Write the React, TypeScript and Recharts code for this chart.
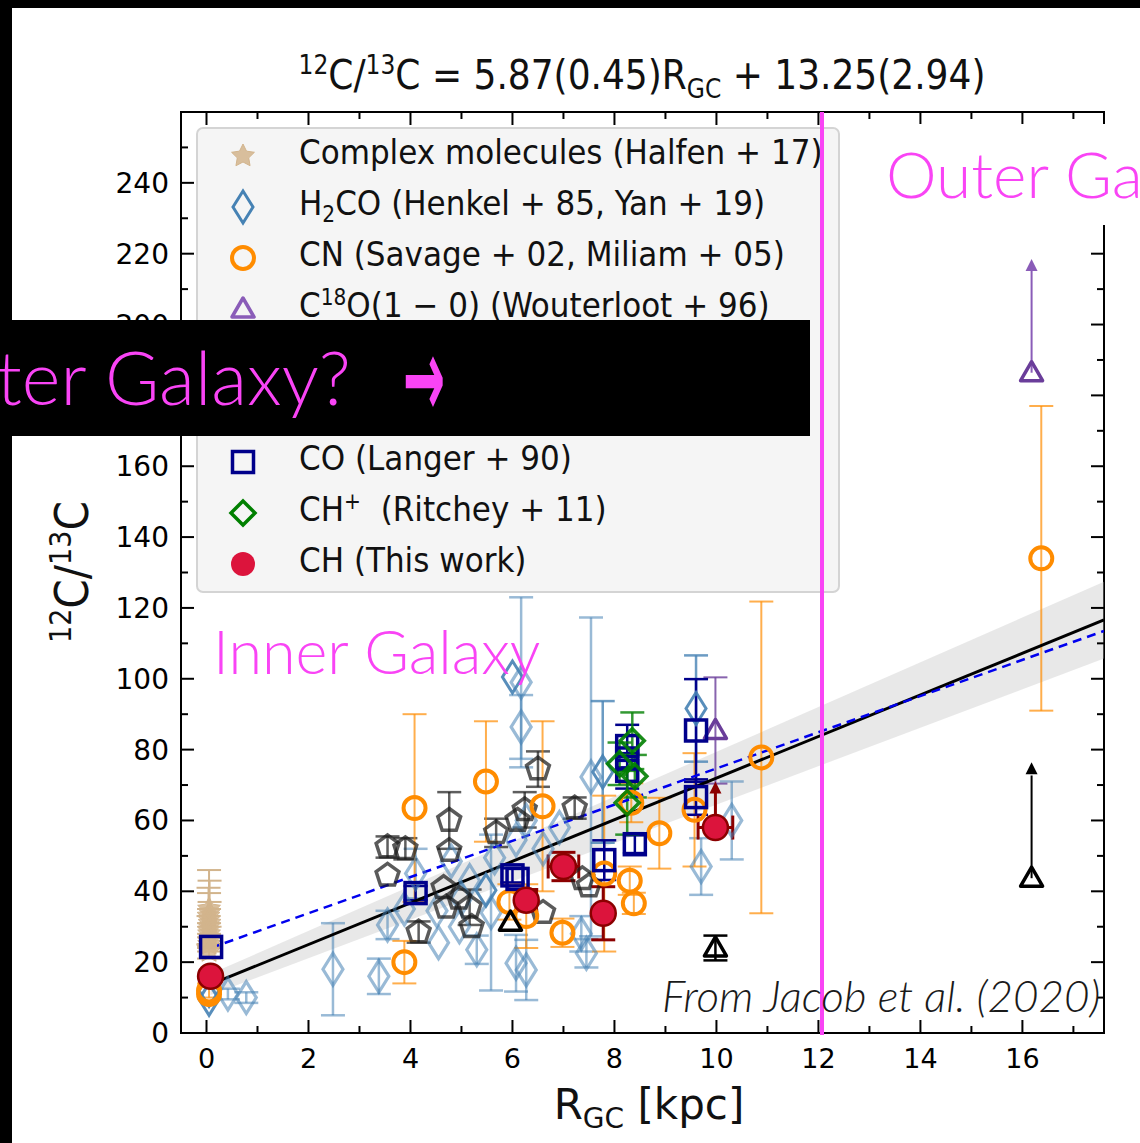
import React from 'react'
import {
  ComposedChart,
  Scatter,
  ErrorBar,
  Line,
  Area,
  XAxis,
  YAxis,
  ReferenceArea,
} from 'recharts'

// ---- axes ----
const X_DOMAIN: [number, number] = [-0.5, 17.6]
const Y_DOMAIN: [number, number] = [0, 260]
const X_TICKS = [0, 1, 2, 3, 4, 5, 6, 7, 8, 9, 10, 11, 12, 13, 14, 15, 16, 17]
const Y_TICKS = [0, 10, 20, 30, 40, 50, 60, 70, 80, 90, 100, 110, 120, 130, 140, 150, 160, 170, 180, 190, 200, 210, 220, 230, 240, 250]
// labels hidden under the slide banner are not drawn
const Y_HIDDEN_LABELS = [180]

// ---- fits ----
const FIT_X = [0.08, 17.6]
const FIT_Y = [13.7, 116.6]
const DASH_Y = [24.0, 113.5]
const BAND_LO = [10.7, 105.7]
const BAND_HI = [16.7, 127.4]

// ---- data (R_GC kpc, 12C/13C, errors) ----
const HALFEN = [
  { x: 0.05, y: 35, ey: 11 }, { x: 0.06, y: 34, ey: 9 }, { x: 0.04, y: 33, ey: 8 },
  { x: 0.05, y: 32, ey: 7.5 }, { x: 0.06, y: 31, ey: 6 }, { x: 0.05, y: 30, ey: 5 },
  { x: 0.04, y: 29, ey: 4 }, { x: 0.05, y: 28, ey: 3 }, { x: 0.06, y: 27, ey: 3 },
  { x: 0.05, y: 26, ey: 2 }, { x: 0.05, y: 25, ey: 2 }, { x: 0.05, y: 23, ey: 2 },
]

const H2CO_DARK = [
  { x: 0.05, y: 9.5 }, { x: 0.05, y: 12 }, { x: 6.0, y: 100.5 },
  { x: 5.48, y: 40.3 }, { x: 7.77, y: 73.7, ey: 20 }, { x: 9.6, y: 91.6, ey: 15 },
]

const H2CO_LIGHT = [
  { x: 0.42, y: 11, ey: 1.5 }, { x: 0.78, y: 10, ey: 1.5 }, { x: 2.48, y: 18, ey: 13 },
  { x: 3.38, y: 16, ey: 5 }, { x: 3.55, y: 30.5, ey: 4 }, { x: 3.88, y: 35 },
  { x: 4.1, y: 45, ey: 7 }, { x: 4.55, y: 25.5 }, { x: 4.52, y: 34.5 },
  { x: 4.8, y: 48.5 }, { x: 4.96, y: 30 }, { x: 5.16, y: 43 },
  { x: 5.3, y: 23.5, ey: 4 }, { x: 5.58, y: 34, ey: 22 }, { x: 5.65, y: 49.5 },
  { x: 6.07, y: 19.7, ey: 8 }, { x: 6.27, y: 17.8, ey: 8.5 }, { x: 6.07, y: 54.5 },
  { x: 6.27, y: 60 }, { x: 6.17, y: 99, ey: 24 }, { x: 6.17, y: 86.4, ey: 9 },
  { x: 6.92, y: 58 }, { x: 7.35, y: 28, ey: 5 }, { x: 7.45, y: 22.5, ey: 4 },
  { x: 7.54, y: 72.3, ey: 45 }, { x: 9.7, y: 47, ey: 8 }, { x: 10.3, y: 60, ey: 11 },
  { x: 6.6, y: 52 }, { x: 5.0, y: 38 },
]

const CN = [
  { x: 0.05, y: 12, ey: 2 }, { x: 0.05, y: 11 }, { x: 3.88, y: 20, ey: 6 },
  { x: 4.08, y: 63.5, ey: 26.5 }, { x: 5.48, y: 71, ey: 17 }, { x: 5.94, y: 37, ey: 5 },
  { x: 6.27, y: 33, ey: 9 }, { x: 6.59, y: 64, ey: 24 }, { x: 6.98, y: 28.3, ey: 4 },
  { x: 7.8, y: 45, ey: 22 }, { x: 8.3, y: 43, ey: 4 }, { x: 8.38, y: 36.6, ey: 3 },
  { x: 8.33, y: 65, ey: 5.5 }, { x: 8.88, y: 56.4, ey: 10 }, { x: 9.57, y: 63, ey: 16 },
  { x: 10.88, y: 77.8, ey: 44 }, { x: 16.37, y: 134, ey: 43 },
]

const C18O = [{ x: 9.98, y: 85.4, ey: 15 }]
const C18O_LIMIT = [{ x: 16.18, y: 186.4, up: [0, 29] }]
const C18O_TIP = [{ x: 16.18, y: 218.5 }]

const PENTA = [
  { x: 3.55, y: 52.5, ey: 3 }, { x: 3.9, y: 52, ey: 3 }, { x: 3.55, y: 44.5 },
  { x: 4.16, y: 28.5, ey: 3 }, { x: 4.76, y: 60, ey: 8 }, { x: 4.76, y: 51.5 },
  { x: 4.65, y: 41 }, { x: 4.7, y: 35.5 }, { x: 5.16, y: 35.5, ey: 5 },
  { x: 5.2, y: 30 }, { x: 4.95, y: 38 }, { x: 5.68, y: 56.5, ey: 4 },
  { x: 6.1, y: 60 }, { x: 6.24, y: 63, ey: 5 }, { x: 6.5, y: 74.5, ey: 5 },
  { x: 6.6, y: 34 }, { x: 7.22, y: 63.5, ey: 3 }, { x: 7.37, y: 43.5 },
  { x: 7.5, y: 41.5 },
]

const BLACK_TRI = [{ x: 5.96, y: 31.3 }, { x: 9.98, y: 24, ey: 3.5 }]
const BLACK_LIMIT = [{ x: 16.18, y: 43.7, up: [0, 29] }]
const BLACK_TIP = [{ x: 16.18, y: 76.4 }]

const CO = [
  { x: 0.09, y: 24.3 }, { x: 4.1, y: 39.5, ey: 2 }, { x: 6.0, y: 44.5, ey: 2 },
  { x: 6.1, y: 43.5 }, { x: 7.8, y: 48.8, ey: 5.6 }, { x: 8.4, y: 53.3, ey: 2.5 },
  { x: 8.25, y: 81, ey: 6 }, { x: 8.25, y: 77.5 }, { x: 8.25, y: 74, ey: 5 },
  { x: 9.6, y: 85.4, ey: 14.5 }, { x: 9.6, y: 66.6, ey: 5 },
]

const CHP = [
  { x: 8.35, y: 82.5, ey: 8 }, { x: 8.1, y: 76, ey: 6 },
  { x: 8.4, y: 72.5, ey: 6 }, { x: 8.25, y: 65, ey: 9 },
]

const CH = [
  { x: 0.08, y: 16 }, { x: 6.27, y: 37.5, ey: 3, ex: 0.2 },
  { x: 7.0, y: 47, ey: 4, ex: 0.3 }, { x: 7.78, y: 33.8, ey: 7.5 },
]
const CH_LIMIT = [{ x: 9.98, y: 58, ex: 0.34, up: [0, 10] }]
const CH_TIP = [{ x: 9.98, y: 71 }]

const FIT_ROWS = FIT_X.map((x, i) => ({
  x,
  fit: FIT_Y[i],
  dash: DASH_Y[i],
  band: [BAND_LO[i], BAND_HI[i]],
}))

// plot box
const PL = 181
const PR = 1104
const PT = 112
const PB = 1033

const TAN = '#d2b48c'
const STEEL = '#4682b4'
const ORANGE = '#ff8c00'
const PURPLE = '#6a3d9a'
const NAVY = '#00008b'
const GREEN = '#008000'
const CRIMSON = '#dc143c'
const DARKRED = '#8b0000'
const MAGENTA = '#f944f5'

const LEGEND_FONT = "'Liberation Sans Narrow', 'DejaVu Sans Condensed', 'Liberation Sans', sans-serif"
const TICK_FONT = "'DejaVu Sans', sans-serif"
const GILL = "Lato, 'Open Sans', sans-serif"

// ---- marker shapes ----
const diamond = (color: string, alpha: number, hw = 10, hh = 16, sw = 3) => (p: any) => (
  <path
    d={`M${p.cx},${p.cy - hh}L${p.cx + hw},${p.cy}L${p.cx},${p.cy + hh}L${p.cx - hw},${p.cy}Z`}
    fill="none"
    stroke={color}
    strokeOpacity={alpha}
    strokeWidth={sw}
  />
)

const ring = (color: string, r = 11) => (p: any) => (
  <circle cx={p.cx} cy={p.cy} r={r} fill="none" stroke={color} strokeWidth={4} />
)

const square = (color: string) => (p: any) => (
  <rect x={p.cx - 10.5} y={p.cy - 10.5} width={21} height={21} fill="none" stroke={color} strokeWidth={3.5} />
)

const triangle = (color: string) => (p: any) => (
  <path
    d={`M${p.cx},${p.cy - 11}L${p.cx + 11},${p.cy + 8}L${p.cx - 11},${p.cy + 8}Z`}
    fill="none"
    stroke={color}
    strokeWidth={3.5}
    strokeLinejoin="round"
  />
)

const arrowTip = (color: string) => (p: any) => (
  <path d={`M${p.cx},${p.cy}L${p.cx + 6},${p.cy + 12}L${p.cx - 6},${p.cy + 12}Z`} fill={color} />
)

const pentagon = (p: any) => {
  const pts = [0, 1, 2, 3, 4]
    .map((k) => {
      const a = ((-90 + 72 * k) * Math.PI) / 180
      return `${p.cx + 12 * Math.cos(a)},${p.cy + 12 * Math.sin(a)}`
    })
    .join(' ')
  return <polygon points={pts} fill="none" stroke="#1a1a1a" strokeOpacity={0.72} strokeWidth={3.5} />
}

const starPath = (cx: number, cy: number, ro: number, ri: number) =>
  Array.from({ length: 10 })
    .map((_, k) => {
      const r = k % 2 === 0 ? ro : ri
      const a = ((-90 + 36 * k) * Math.PI) / 180
      return `${k === 0 ? 'M' : 'L'}${cx + r * Math.cos(a)},${cy + r * Math.sin(a)}`
    })
    .join('') + 'Z'

const star = (p: any) => <path d={starPath(p.cx, p.cy, 12, 6)} fill={TAN} fillOpacity={0.85} stroke={TAN} strokeWidth={1} />

const filledDot = (p: any) => (
  <circle cx={p.cx} cy={p.cy} r={12.5} fill={CRIMSON} stroke={DARKRED} strokeWidth={2.5} />
)

// ---- ticks: matplotlib style, pointing inwards on all four sides ----
const XTick = ({ x, payload }: any) => {
  const v = payload.value
  const major = v % 2 === 0
  const len = major ? 13 : 7
  return (
    <g>
      <line x1={x} x2={x} y1={PB} y2={PB - len} stroke="#000" strokeWidth={2} />
      <line x1={x} x2={x} y1={PT} y2={PT + len} stroke="#000" strokeWidth={2} />
      {major && (
        <text x={x} y={PB + 35} textAnchor="middle" fontSize={27} fontFamily={TICK_FONT} fill="#000">
          {v}
        </text>
      )}
    </g>
  )
}

const YTick = ({ y, payload }: any) => {
  const v = payload.value
  const major = v % 20 === 0
  const len = major ? 13 : 7
  return (
    <g>
      <line x1={PL} x2={PL + len} y1={y} y2={y} stroke="#000" strokeWidth={2} />
      <line x1={PR} x2={PR - len} y1={y} y2={y} stroke="#000" strokeWidth={2} />
      {major && !Y_HIDDEN_LABELS.includes(v) && (
        <text x={PL - 12} y={y + 10} textAnchor="end" fontSize={28} fontFamily={TICK_FONT} fill="#000">
          {v}
        </text>
      )}
    </g>
  )
}

// ---- legend ----
const LegendMarker = ({ kind }: { kind: string }) => {
  const p = { cx: 20, cy: 20 }
  let el: any = null
  if (kind === 'star') el = star(p)
  if (kind === 'diamond') el = diamond(STEEL, 1)(p)
  if (kind === 'ring') el = ring(ORANGE)(p)
  if (kind === 'tri') el = triangle('#8a5cb8')(p)
  if (kind === 'penta') el = pentagon(p)
  if (kind === 'btri') el = triangle('#000')(p)
  if (kind === 'square') el = square(NAVY)(p)
  if (kind === 'green') el = diamond(GREEN, 1, 12, 12, 3.5)(p)
  if (kind === 'dot') el = <circle cx={20} cy={20} r={12} fill={CRIMSON} />
  return (
    <svg width={40} height={40} style={{ position: 'absolute', left: 25, top: 5 }}>
      {el}
    </svg>
  )
}

const sup = { fontSize: '0.65em', position: 'relative' as const, top: '-0.55em' }
const sub = { fontSize: '0.65em', position: 'relative' as const, top: '0.3em' }

const LEGEND_ROWS: { kind: string; label: React.ReactNode }[] = [
  { kind: 'star', label: 'Complex molecules (Halfen + 17)' },
  { kind: 'diamond', label: <>H<span style={sub}>2</span>CO (Henkel + 85, Yan + 19)</> },
  { kind: 'ring', label: 'CN (Savage + 02, Miliam + 05)' },
  { kind: 'tri', label: <>C<span style={sup}>18</span>O(1 − 0) (Wouterloot + 96)</> },
  { kind: 'penta', label: '' },
  { kind: 'btri', label: '' },
  { kind: 'square', label: 'CO (Langer + 90)' },
  { kind: 'green', label: <>CH<span style={sup}>+</span>&nbsp; (Ritchey + 11)</> },
  { kind: 'dot', label: 'CH (This work)' },
]

const LegendBox = () => (
  <div
    style={{
      position: 'absolute',
      left: 196,
      top: 127,
      width: 640,
      height: 462,
      background: 'rgba(244,244,244,0.92)',
      border: '2px solid #d4d4d4',
      borderRadius: 7,
    }}
  >
    {LEGEND_ROWS.map((r, i) => (
      <div key={i} style={{ position: 'absolute', left: 0, top: 2 + i * 51, height: 51, width: '100%' }}>
        <LegendMarker kind={r.kind} />
        <div
          style={{
            position: 'absolute',
            left: 101,
            top: 1,
            fontFamily: LEGEND_FONT,
            fontSize: 34.5,
            lineHeight: '40px',
            color: '#111',
            whiteSpace: 'nowrap',
          }}
        >
          {r.label}
        </div>
      </div>
    ))}
  </div>
)

export default function App() {
  return (
    <div
      style={{
        position: 'absolute',
        left: 0,
        top: 0,
        width: 1140,
        height: 1143,
        background: '#fff',
        overflow: 'hidden',
      }}
    >
      <ComposedChart
        width={1140}
        height={1143}
        data={FIT_ROWS}
        margin={{ top: PT, right: 1140 - PR, left: 81, bottom: 50 }}
      >
        <XAxis
          dataKey="x"
          type="number"
          domain={X_DOMAIN}
          ticks={X_TICKS}
          interval={0}
          allowDataOverflow
          height={60}
          tickLine={false}
          axisLine={{ stroke: '#000', strokeWidth: 2 }}
          tick={<XTick />}
        />
        <YAxis
          dataKey="y"
          type="number"
          domain={Y_DOMAIN}
          ticks={Y_TICKS}
          interval={0}
          allowDataOverflow
          width={100}
          tickLine={false}
          axisLine={{ stroke: '#000', strokeWidth: 2 }}
          tick={<YTick />}
        />
        <ReferenceArea x1={X_DOMAIN[0]} x2={X_DOMAIN[1]} y1={Y_DOMAIN[0]} y2={Y_DOMAIN[1]} fill="none" stroke="#000" strokeWidth={2} />
        <Area dataKey="band" type="linear" fill="#bdbdbd" fillOpacity={0.35} stroke="none" isAnimationActive={false} />

        <Scatter data={HALFEN} shape={star} isAnimationActive={false}>
          <ErrorBar dataKey="ey" direction="y" width={12} stroke={TAN} strokeWidth={2} />
        </Scatter>
        <Scatter data={H2CO_LIGHT} shape={diamond(STEEL, 0.55, 10, 16, 3.2)} isAnimationActive={false}>
          <ErrorBar dataKey="ey" direction="y" width={12} stroke={STEEL} strokeOpacity={0.55} strokeWidth={2.5} />
        </Scatter>
        <Scatter data={PENTA} shape={pentagon} isAnimationActive={false}>
          <ErrorBar dataKey="ey" direction="y" width={12} stroke="#1a1a1a" strokeOpacity={0.7} strokeWidth={2.5} />
        </Scatter>
        <Scatter data={H2CO_DARK} shape={diamond(STEEL, 0.9)} isAnimationActive={false}>
          <ErrorBar dataKey="ey" direction="y" width={12} stroke={STEEL} strokeOpacity={0.8} strokeWidth={2.5} />
        </Scatter>
        <Scatter data={CN} shape={ring(ORANGE)} isAnimationActive={false}>
          <ErrorBar dataKey="ey" direction="y" width={12} stroke={ORANGE} strokeOpacity={0.7} strokeWidth={2} />
        </Scatter>
        <Scatter data={C18O} shape={triangle(PURPLE)} isAnimationActive={false}>
          <ErrorBar dataKey="ey" direction="y" width={12} stroke={PURPLE} strokeOpacity={0.8} strokeWidth={2} />
        </Scatter>
        <Scatter data={C18O_LIMIT} shape={triangle(PURPLE)} isAnimationActive={false}>
          <ErrorBar dataKey="up" direction="y" width={0} stroke="#8a5cb8" strokeWidth={2} />
        </Scatter>
        <Scatter data={C18O_TIP} shape={arrowTip('#8a5cb8')} isAnimationActive={false} />
        <Scatter data={BLACK_TRI} shape={triangle('#000')} isAnimationActive={false}>
          <ErrorBar dataKey="ey" direction="y" width={12} stroke="#000" strokeWidth={2.5} />
        </Scatter>
        <Scatter data={BLACK_LIMIT} shape={triangle('#000')} isAnimationActive={false}>
          <ErrorBar dataKey="up" direction="y" width={0} stroke="#000" strokeWidth={2} />
        </Scatter>
        <Scatter data={BLACK_TIP} shape={arrowTip('#000')} isAnimationActive={false} />
        <Scatter data={CO} shape={square(NAVY)} isAnimationActive={false}>
          <ErrorBar dataKey="ey" direction="y" width={12} stroke={NAVY} strokeWidth={2.5} />
        </Scatter>
        <Scatter data={CHP} shape={diamond(GREEN, 0.9, 12, 12, 3.5)} isAnimationActive={false}>
          <ErrorBar dataKey="ey" direction="y" width={12} stroke={GREEN} strokeOpacity={0.8} strokeWidth={2.5} />
        </Scatter>

        <Line dataKey="fit" type="linear" stroke="#000" strokeWidth={3} dot={false} isAnimationActive={false} />
        <Line dataKey="dash" type="linear" stroke="#0000ee" strokeWidth={2.5} strokeDasharray="9 6" dot={false} isAnimationActive={false} />

        <Scatter data={CH} shape={filledDot} isAnimationActive={false}>
          <ErrorBar dataKey="ey" direction="y" width={12} stroke={DARKRED} strokeWidth={3} />
          <ErrorBar dataKey="ex" direction="x" width={12} stroke={DARKRED} strokeWidth={3} />
        </Scatter>
        <Scatter data={CH_LIMIT} shape={filledDot} isAnimationActive={false}>
          <ErrorBar dataKey="up" direction="y" width={0} stroke={DARKRED} strokeWidth={3} />
          <ErrorBar dataKey="ex" direction="x" width={12} stroke={DARKRED} strokeWidth={3} />
        </Scatter>
        <Scatter data={CH_TIP} shape={arrowTip(DARKRED)} isAnimationActive={false} />
      </ComposedChart>

      <LegendBox />

      {/* slide annotations drawn over the figure */}
      <svg width={1140} height={1143} style={{ position: 'absolute', left: 0, top: 0, pointerEvents: 'none' }}>
        <rect x={0} y={0} width={12} height={1143} fill="#000" />
        <rect x={0} y={0} width={1140} height={8} fill="#000" />

        <text x={642} y={89} textAnchor="middle" fontFamily={LEGEND_FONT} fontSize={40} fill="#111">
          <tspan fontSize={26} dy={-15}>12</tspan>
          <tspan dy={15}>C/</tspan>
          <tspan fontSize={26} dy={-15}>13</tspan>
          <tspan dy={15}>C = 5.87(0.45)R</tspan>
          <tspan fontSize={26} dy={9}>GC</tspan>
          <tspan dy={-9}> + 13.25(2.94)</tspan>
        </text>

        <text transform="translate(88 572) rotate(-90)" textAnchor="middle" fontFamily={LEGEND_FONT} fontSize={47} fill="#111">
          <tspan fontSize={30} dy={-17}>12</tspan>
          <tspan dy={17}>C/</tspan>
          <tspan fontSize={30} dy={-17}>13</tspan>
          <tspan dy={17}>C</tspan>
        </text>

        <text x={649} y={1119} textAnchor="middle" fontFamily={TICK_FONT} fontSize={42} fill="#111">
          R<tspan fontSize={28} dy={9}>GC</tspan>
          <tspan dy={-9}> [kpc]</tspan>
        </text>

        <line x1={822} x2={822} y1={PT} y2={PB + 2} stroke={MAGENTA} strokeWidth={4} />

        <text x={213} y={674} fontFamily={GILL} fontWeight={300} fontSize={61} fill={MAGENTA}>
          Inner Galaxy
        </text>
        <text x={662} y={1012} fontFamily={GILL} fontWeight={300} fontStyle="italic" fontSize={44} fill="#1a1a1a">
          From Jacob et al. (2020)
        </text>

        <rect x={856} y={124} width={284} height={101} fill="#fff" />
        <text x={886} y={198} fontFamily={GILL} fontWeight={300} fontSize={64} fill={MAGENTA}>
          Outer Galaxy
        </text>

        <rect x={0} y={320} width={810} height={116} fill="#000" />
        <text x={-102} y={405} fontFamily={GILL} fontWeight={300} fontSize={74} fill={MAGENTA}>
          Outer Galaxy?
        </text>
        <text transform="translate(403 417) scale(0.45 1)" fontFamily={TICK_FONT} fontWeight={700} fontSize={112} fill={MAGENTA}>
          →
        </text>
      </svg>
    </div>
  )
}
